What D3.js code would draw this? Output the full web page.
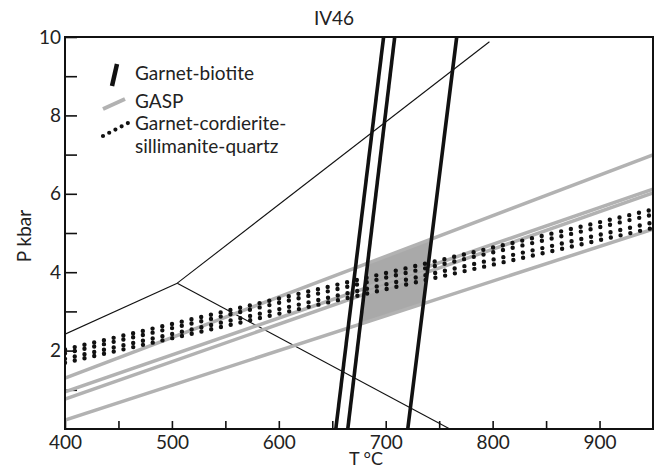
<!DOCTYPE html>
<html>
<head>
<meta charset="utf-8">
<script src="https://cdn.jsdelivr.net/npm/d3@7"></script>
<style>
  html, body { margin: 0; padding: 0; background: #fff; }
  svg { display: block; }
  text { font-family: Lato, "Open Sans", sans-serif; fill: #222; }
</style>
</head>
<body>
<svg id="chart" width="660" height="468"></svg>
<script>
// Sample IV46: P–T constraints (T in °C, P in kbar)
const tempTicks = [400, 450, 500, 550, 600, 650, 700, 750, 800, 850, 900];
const tempLabels = [400, 500, 600, 700, 800, 900];
const presTicks = [1, 2, 3, 4, 5, 6, 7, 8, 9, 10];
const presLabels = [2, 4, 6, 8, 10];

// Garnet-biotite thermometer lines, endpoints [T, P]
const garnetBiotite = [
  [[653.3, 0], [698.0, 10]],
  [[664.5, 0], [708.4, 10]],
  [[720.6, 0], [766.4, 10]]
];

// GASP barometer lines
const gasp = [
  [[400, 1.30], [950, 6.99]],
  [[400, 0.95], [950, 6.12]],
  [[400, 0.76], [950, 6.02]],
  [[400, 0.23], [950, 5.10]]
];

// Garnet-cordierite-sillimanite-quartz barometer lines
const gcsq = [
  [[400, 2.03], [950, 5.60]],
  [[400, 1.93], [950, 5.47]],
  [[400, 1.79], [950, 5.27]],
  [[400, 1.69], [950, 5.13]]
];

// Al2SiO5 phase boundaries
const aluminosilicate = [
  [[400, 2.42], [505, 3.72]],
  [[505, 3.72], [797, 9.88]],
  [[505, 3.72], [760, 0]]
];

const legendItems = [
  { kind: "gb", lines: ["Garnet-biotite"] },
  { kind: "gasp", lines: ["GASP"] },
  { kind: "gcsq", lines: ["Garnet-cordierite-", "sillimanite-quartz"] }
];

const svg = d3.select("#chart");
const pLeft = 65, pRight = 653, pTop = 37, pBottom = 429;

const x = d3.scaleLinear().domain([400, 950]).range([pLeft, pRight]);
const y = d3.scaleLinear().domain([0, 10]).range([pBottom, pTop]);

const line = d3.line().x(d => x(d[0])).y(d => y(d[1]));

svg.append("defs").append("clipPath").attr("id", "plot")
  .append("rect").attr("x", pLeft).attr("y", pTop)
  .attr("width", pRight - pLeft).attr("height", pBottom - pTop);

// axes
const xAxis = d3.axisBottom(x).tickValues(tempTicks).tickSize(-8).tickPadding(7)
  .tickFormat(d => tempLabels.includes(d) ? d : "");
const yAxis = d3.axisLeft(y).tickValues(presTicks).tickSize(-12).tickPadding(4)
  .tickFormat(d => presLabels.includes(d) ? d : "");

const gx = svg.append("g").attr("transform", `translate(0,${pBottom})`).call(xAxis);
const gy = svg.append("g").attr("transform", `translate(${pLeft},0)`).call(yAxis);
[gx, gy].forEach(g => {
  g.select(".domain").remove();
  g.selectAll(".tick line").attr("stroke", "#111").attr("stroke-width", 1.6);
  g.selectAll(".tick text").style("font-family", "Lato, sans-serif")
    .style("font-size", "19px").attr("fill", "#222");
});

const plot = svg.append("g").attr("clip-path", "url(#plot)");

// intersection of two segments' supporting lines, in data space
function intersect(a, b) {
  const [[x1, y1], [x2, y2]] = a, [[x3, y3], [x4, y4]] = b;
  const d = (x1 - x2) * (y3 - y4) - (y1 - y2) * (x3 - x4);
  const t = ((x1 - x3) * (y3 - y4) - (y1 - y3) * (x3 - x4)) / d;
  return [x1 + t * (x2 - x1), y1 + t * (y2 - y1)];
}

// overlap field: between outer GASP lines and the 2nd/3rd garnet-biotite lines
const gTop = gasp[0], gBot = gasp[3], gbL = garnetBiotite[1], gbR = garnetBiotite[2];
const field = [intersect(gbL, gTop), intersect(gbR, gTop), intersect(gbR, gBot), intersect(gbL, gBot)];
plot.append("path").attr("d", line(field) + "Z").attr("fill", "#a9a9a9");

plot.selectAll(".als").data(aluminosilicate).join("path")
  .attr("d", line).attr("fill", "none").attr("stroke", "#111").attr("stroke-width", 1.1);

plot.selectAll(".gasp").data(gasp).join("path")
  .attr("d", line).attr("fill", "none").attr("stroke", "#b2b2b2").attr("stroke-width", 3.5);

plot.selectAll(".gcsq").data(gcsq).join("path")
  .attr("d", line).attr("fill", "none").attr("stroke", "#111")
  .attr("stroke-width", 4.4).attr("stroke-linecap", "round").attr("stroke-dasharray", "0 10");

plot.selectAll(".gb").data(garnetBiotite).join("path")
  .attr("d", line).attr("fill", "none").attr("stroke", "#111").attr("stroke-width", 3.6);

// frame
svg.append("rect").attr("x", pLeft).attr("y", pTop)
  .attr("width", pRight - pLeft).attr("height", pBottom - pTop)
  .attr("fill", "none").attr("stroke", "#111").attr("stroke-width", 2);

// legend
const lg = svg.append("g");
const rowY = [80, 108, 130];
legendItems.forEach((it, i) => {
  const by = rowY[i];
  if (it.kind === "gb") {
    lg.append("line").attr("x1", 112).attr("y1", by + 6).attr("x2", 117).attr("y2", by - 16)
      .attr("stroke", "#111").attr("stroke-width", 4.5);
  } else if (it.kind === "gasp") {
    lg.append("line").attr("x1", 103).attr("y1", by + 1).attr("x2", 125).attr("y2", by - 9)
      .attr("stroke", "#b2b2b2").attr("stroke-width", 4);
  } else {
    lg.append("line").attr("x1", 103).attr("y1", by + 6).attr("x2", 128).attr("y2", by - 7)
      .attr("stroke", "#111").attr("stroke-width", 4.2).attr("stroke-linecap", "round")
      .attr("stroke-dasharray", "0 7");
  }
  it.lines.forEach((t, j) => {
    lg.append("text").attr("x", 135).attr("y", by + j * 22.5)
      .style("font-size", "19px").text(t);
  });
});

// titles
svg.append("text").attr("x", 334).attr("y", 25).attr("text-anchor", "middle")
  .style("font-size", "19px").text("IV46");
svg.append("text").attr("x", 366).attr("y", 465).attr("text-anchor", "middle")
  .style("font-size", "18px").text("T °C");
svg.append("text").attr("transform", "translate(31,236) rotate(-90)")
  .attr("text-anchor", "middle").style("font-size", "19px").text("P kbar");
</script>
</body>
</html>
